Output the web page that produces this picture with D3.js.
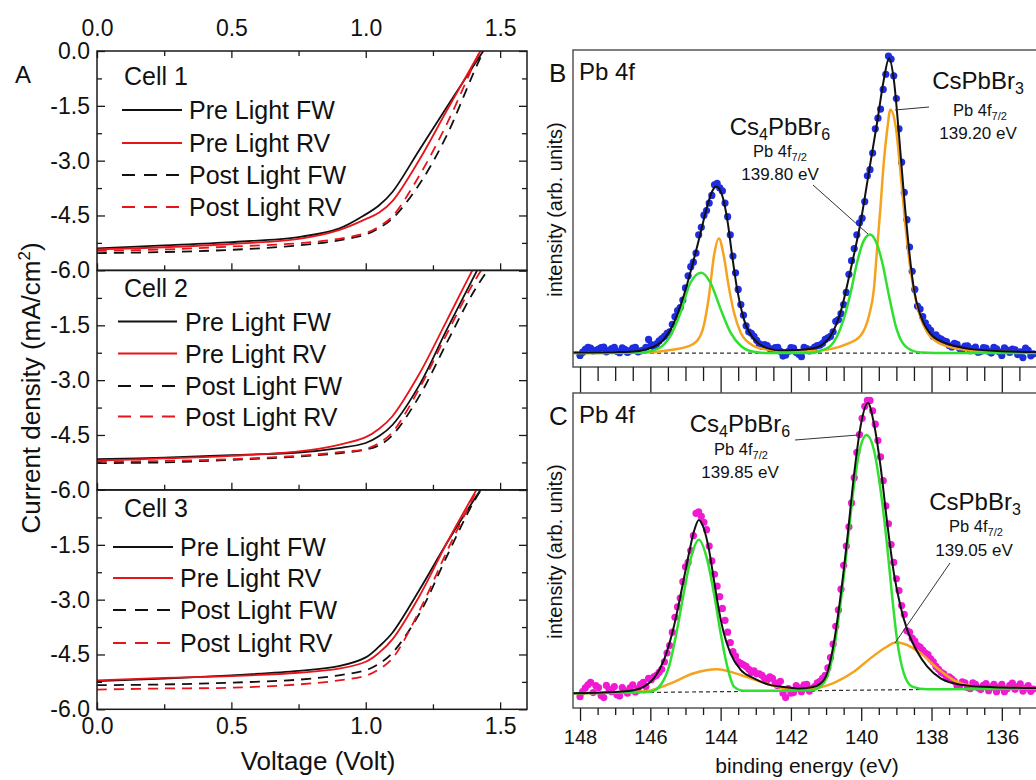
<!DOCTYPE html>
<head>
  <meta charset="utf-8">
  <script src="https://d3js.org/d3.v7.min.js"></script>
  <style>
    body { margin:0; background:#fff; }
    svg { display:block; }
    text { font-family: "Liberation Sans", Arial, sans-serif; fill:#111; }
  </style>
</head>

<body>
  <script>
// ---------- panel A : J-V curves ----------
const volts = [0, 0.25, 0.5, 0.75, 0.9, 1.0, 1.05, 1.1, 1.2, 1.3, 1.4, 1.5];
const cellNames = ["Cell 1", "Cell 2", "Cell 3"];
const seriesNames = ["Pre Light FW", "Pre Light RV", "Post Light FW", "Post Light RV"];
const cell1J = [
  [-5.40, -5.32, -5.23, -5.09, -4.86, -4.47, -4.22, -3.85, -2.70, -1.55, -0.42, 0.7],
  [-5.43, -5.37, -5.28, -5.14, -4.90, -4.60, -4.42, -4.10, -2.97, -1.65, -0.35, 0.95],
  [-5.53, -5.50, -5.44, -5.32, -5.18, -5.02, -4.84, -4.58, -3.64, -2.33, -0.62, 1.0],
  [-5.47, -5.43, -5.35, -5.26, -5.14, -4.98, -4.80, -4.52, -3.40, -2.02, -0.40, 1.2]
];
const cell2J = [
  [-5.16, -5.12, -5.05, -4.98, -4.86, -4.72, -4.53, -4.22, -3.13, -1.64, -0.20, 1.2],
  [-5.20, -5.14, -5.07, -4.95, -4.77, -4.56, -4.33, -3.98, -2.82, -1.39, 0.05, 1.4],
  [-5.27, -5.25, -5.18, -5.09, -5.00, -4.90, -4.78, -4.50, -3.43, -2.00, -0.60, 0.5],
  [-5.23, -5.21, -5.16, -5.07, -4.97, -4.88, -4.72, -4.42, -3.22, -1.76, -0.35, 0.8]
];
const cell3J = [
  [-5.23, -5.16, -5.07, -4.95, -4.82, -4.58, -4.28, -3.90, -2.73, -1.47, -0.30, 0.8],
  [-5.21, -5.14, -5.09, -5.00, -4.89, -4.70, -4.45, -4.08, -2.90, -1.47, -0.15, 1.1],
  [-5.34, -5.32, -5.27, -5.19, -5.07, -4.93, -4.75, -4.45, -3.38, -1.84, -0.35, 0.8],
  [-5.46, -5.43, -5.41, -5.32, -5.21, -5.08, -4.90, -4.60, -3.30, -1.71, -0.20, 1.2]
];
const jTicks = [0, -1.5, -3.0, -4.5, -6.0];
const vTicks = [0, 0.5, 1.0, 1.5];

// ---------- panels B and C : XPS Pb 4f ----------
// measured points on two interleaved energy grids (0.15 eV step)
const dotEnergyA = d3.range(87).map(i => +(148 - 0.15 * i).toFixed(3));
const dotEnergyB = d3.range(86).map(i => +(147.925 - 0.15 * i).toFixed(3));
const bDotsA = [-0.8, 1.2, 1.6, 0.9, 1.8, 0.4, 1.5, 0.6, 1.7, 0.2, 1.6, 0.4, 1.0, 4.5, 2.0, 4.0, 5.5, 7.0, 12.0, 15.0,
  21.5, 28.5, 33.0, 41.5, 47.0, 52.0, 56.0, 53.5, 45.0, 32.0, 21.0, 12.5, 7.0, 5.5, 3.0, 2.8, 1.5, 1.8, 0.6, -0.6,
  1.8, 0.2, -1.2, 1.5, 1.2, 2.5, 3.2, 5.0, 7.0, 11.0, 16.0, 26.0, 34.5, 43.0, 50.0, 60.5, 74.0, 80.5, 92.0, 97.0,
  84.0, 63.0, 44.0, 27.0, 15.5, 12.0, 8.5, 5.5, 5.0, 4.0, 2.5, 3.2, 1.5, 2.3, 0.8, 2.0, 0.5, 1.6, 0.0, 1.4,
  -0.8, 1.0, 1.3, -0.5, -1.5, 0.9, -0.3];
const bDotsB = [0.3, 1.9, 0.7, 1.3, 2.0, 0.9, 1.9, 0.1, 1.2, 0.8, 1.9, 0.7, 1.9, 2.8, 3.0, 4.8, 6.5, 9.5, 14.0, 17.5,
  25.5, 30.0, 39.0, 45.5, 49.5, 55.5, 54.5, 49.5, 39.0, 26.5, 16.0, 9.0, 6.5, 4.2, 2.2, 2.5, 0.9, 1.9, -1.0, 0.5,
  1.6, -0.4, 1.9, 0.7, 2.0, 2.6, 4.5, 5.5, 10.5, 13.0, 20.0, 30.5, 39.0, 44.5, 58.5, 66.0, 77.5, 87.0, 98.0, 91.5,
  74.0, 53.0, 35.0, 21.0, 14.5, 10.0, 7.5, 6.0, 4.6, 3.8, 2.0, 2.9, 1.2, 2.4, 1.5, 0.3, 1.8, 0.6, 1.9, 0.4,
  1.7, 0.2, 1.1, 0.4, 1.6, -0.9];
const cDotsA = [-2.2, 0.8, 2.6, 1.5, -1.8, 1.6, -0.5, -1.5, 0.9, -1.0, 1.8, 0.5, 2.6, 4.0, 4.5, 6.0, 9.5, 15.0, 24.5, 31.0,
  41.5, 47.0, 59.5, 58.5, 54.0, 43.5, 35.0, 27.5, 19.5, 13.0, 9.5, 8.5, 7.0, 6.5, 5.5, 4.0, 4.5, 2.5, 3.0, -2.5,
  -1.0, 1.5, -0.5, 2.0, 0.5, 2.5, 4.0, 7.5, 15.5, 27.0, 42.0, 55.0, 71.5, 86.0, 95.5, 97.5, 89.5, 78.5, 62.0, 49.0,
  37.5, 28.5, 20.0, 17.5, 15.0, 13.5, 12.0, 9.5, 7.0, 5.5, 4.5, 3.0, 1.5, 2.5, 0.5, 2.0, 0.2, 2.2, 1.0, -0.5,
  2.0, 0.5, 2.4, 1.2, -0.3, 1.5, 0.4];
const cDotsB = [-0.5, 1.8, -0.8, 0.9, -2.5, 0.3, 1.2, -2.0, -0.2, 0.8, -0.6, 2.0, 1.2, 3.5, 5.0, 7.0, 12.5, 19.5, 28.0, 36.5,
  43.0, 52.0, 60.0, 56.5, 48.5, 39.0, 31.5, 23.5, 16.0, 11.5, 9.0, 8.0, 6.0, 5.5, 5.0, 3.5, 4.0, 1.5, -1.0, 0.5,
  -0.8, 0.8, 1.8, -0.3, 1.2, 3.0, 5.0, 11.0, 21.5, 34.0, 48.5, 63.0, 80.0, 91.5, 97.5, 94.0, 84.0, 70.5, 56.0, 43.0,
  33.5, 25.5, 19.5, 16.5, 14.5, 12.5, 10.5, 8.0, 6.0, 4.0, 3.8, 1.5, 2.8, 0.9, 2.5, 0.8, 1.6, -0.2, 2.0, 1.0,
  -0.5, 1.6, 0.3, 2.1, 0.7, -0.4];

// fitted envelope and components, [binding energy, intensity]
const bFit = [[148.2,0.2],[147,0.3],[146.56,0.4],[146.09,1.3],[145.61,4.6],[145.33,10],[145.05,18.9],[144.76,31],
  [144.57,39.7],[144.38,48.5],[144.24,53.4],[144.12,55],[143.95,51.8],[143.81,44],[143.67,32],[143.53,21],
  [143.34,11.2],[143.05,4.6],[142.58,1.3],[142.3,0.9],[141.8,1.0],[141.4,1.5],[141.16,2.4],[140.87,5.7],
  [140.59,13.4],[140.3,27.6],[140.02,43],[139.74,62.7],[139.55,75.9],[139.36,90],[139.21,97.3],[139.07,90],
  [138.93,72.6],[138.79,52.9],[138.64,34.2],[138.5,21],[138.31,12.3],[138.03,6.3],[137.65,3.5],[137.18,1.9],
  [136.89,1.3],[136,0.6],[134.8,0.3]];
const bCs4PbBr6 = [[148.2,0],[146.4,0.1],[146.09,0.4],[145.71,1.9],[145.43,5.7],[145.14,13.4],[144.86,23.2],
  [144.55,26.5],[144.29,23.2],[144.0,14.5],[143.72,6.8],[143.43,2.4],[143.05,0.4],[142.6,0],[141.4,0],
  [141.16,0.8],[140.87,2.4],[140.68,5.7],[140.5,11.2],[140.3,20],[140.12,29.8],[139.93,37],[139.75,39.1],
  [139.59,37],[139.4,29.8],[139.21,18.9],[139.02,9],[138.83,3.5],[138.55,0.8],[138.3,0.2],[137.5,0],[134.8,0]];
const bCsPbBr3 = [[148.2,0],[146.09,0.2],[145.43,1.0],[144.95,2.1],[144.67,4],[144.48,9],[144.33,18.9],
  [144.19,32],[144.05,37.8],[143.91,32],[143.77,22],[143.62,13.4],[143.43,6.8],[143.15,3.0],[142.77,1.3],
  [142.3,0.7],[141.5,0.6],[140.87,1.3],[140.4,3.0],[140.02,5.7],[139.78,12.3],[139.64,21],[139.55,34.2],
  [139.45,48.5],[139.36,62.7],[139.26,73.7],[139.17,80.3],[139.02,74.8],[138.88,59.4],[138.74,41.9],
  [138.6,27.6],[138.41,15.6],[138.12,6.8],[137.74,3.0],[137.18,1.3],[136.89,0.8],[136,0.4],[134.8,0.2]];
const bBase = [[148.2,0],[134.8,0]];

const cFit = [[148.2,-1.0],[147,-0.6],[146.56,-0.2],[146.18,1.2],[145.9,4.0],[145.61,10.2],[145.33,21.4],
  [145.09,34.9],[144.9,46.1],[144.76,53.4],[144.62,57.3],[144.48,54.5],[144.33,47.2],[144.19,37.1],[144.05,27],
  [143.91,19.2],[143.72,12.4],[143.43,6.8],[143.05,4.0],[142.58,1.7],[142.3,1.2],[141.8,0.6],[141.4,1.0],
  [141.16,2.2],[140.97,5.7],[140.78,15.8],[140.59,31.5],[140.4,50.6],[140.21,71.9],[140.02,88.7],[139.81,96.6],
  [139.64,89.8],[139.45,75.3],[139.26,56.2],[139.07,39.3],[138.88,28.1],[138.69,20.3],[138.41,13],[138.12,7.9],
  [137.74,4.0],[137.37,2.3],[136.89,1.4],[136,0.9],[134.8,0.7]];
const cCs4PbBr6 = [[148.2,-1.0],[146.3,-0.7],[146.0,-0.5],[145.71,1.7],[145.47,7.9],[145.24,20.3],[145.05,32.6],
  [144.86,43.8],[144.62,50.6],[144.38,43.8],[144.19,32.6],[144.0,19.2],[143.81,7.9],[143.62,1.2],[143.34,-0.2],
  [142.8,-0.2],[141.4,0],[141.16,1.2],[140.97,4.5],[140.78,13.5],[140.59,29.2],[140.4,48.3],[140.21,68.5],
  [140.02,82],[139.85,85.9],[139.64,80.9],[139.45,67.4],[139.26,48.3],[139.12,31.5],[138.98,16.9],[138.79,5.7],
  [138.55,1.2],[138.12,0.3],[134.8,0.5]];
const cCsPbBr3 = [[148.2,-1.0],[146.5,-0.6],[146.09,-0.3],[145.42,2.3],[144.76,5.7],[144.1,7.0],[143.43,5.1],
  [142.77,2.5],[142.1,0.6],[141.44,0.6],[141.16,1.0],[140.7,2.9],[140.21,6.2],[139.74,10.7],[139.26,14.7],
  [139.02,16],[138.79,15.6],[138.31,12.4],[137.84,7.4],[137.37,3.4],[136.89,1.4],[136.42,0.9],[134.8,0.6]];
const cBase = [[148.2,-1.05],[134.8,0.68]];
const eTicks = [148, 146, 144, 142, 140, 138, 136];

const width = 1036, height = 780;
const svg = d3.select("body").append("svg").attr("width", width).attr("height", height);
svg.append("rect").attr("width", width).attr("height", height).attr("fill", "#fff");

const ink = "#1a1a1a";
function styleAxis(g, size) {
  g.select(".domain").remove();
  g.attr("font-family", "Liberation Sans, Arial, sans-serif").attr("font-size", size).attr("color", ink);
  g.selectAll("line").attr("stroke-width", 1.3);
}

// ===== A =====
const xV = d3.scaleLinear().domain([0, 1.6]).range([97, 527]);
const cellTop = [51, 270.5, 490], cellH = 219.3;
const jvLine = d3.line().curve(d3.curveCatmullRom.alpha(0.5));
const jvColor = ["#111", "#e8141c", "#111", "#e8141c"];
const jvDash = [null, null, "10,7", "10,7"];
// legend layout per cell: title baseline, row centres, line start, line end, text x
const legendPos = [
  { title: 34, rows: [59, 92, 124, 156], x0: 122, x1: 182, tx: 189, cx: 124 },
  { title: 26, rows: [51, 83, 115.5, 146], x0: 118, x1: 177, tx: 185, cx: 124 },
  { title: 27, rows: [57, 88, 120, 153], x0: 113, x1: 173, tx: 180, cx: 124 }
];

[cell1J, cell2J, cell3J].forEach((J, c) => {
  const top = cellTop[c];
  const y = d3.scaleLinear().domain([-6, 0]).range([top + cellH, top]);
  const g = svg.append("g");
  const clipId = "clipA" + c;
  svg.append("clipPath").attr("id", clipId).append("rect")
    .attr("x", xV(0)).attr("y", top).attr("width", xV(1.6) - xV(0)).attr("height", cellH);

  J.forEach((vals, s) => {
    g.append("path")
      .attr("clip-path", `url(#${clipId})`)
      .attr("d", jvLine(volts.map((v, i) => [xV(v), y(vals[i])])))
      .attr("fill", "none")
      .attr("stroke", jvColor[s])
      .attr("stroke-width", 1.8)
      .attr("stroke-dasharray", jvDash[s]);
  });

  g.append("rect").attr("x", xV(0)).attr("y", top).attr("width", xV(1.6) - xV(0)).attr("height", cellH)
    .attr("fill", "none").attr("stroke", ink).attr("stroke-width", 1.5);

  const yMajor = c === 0 ? jTicks : jTicks.slice(1);
  g.append("g").attr("transform", `translate(${xV(0)},0)`)
    .call(d3.axisLeft(y).tickValues(yMajor).tickSize(-8).tickPadding(7).tickFormat(d => d.toFixed(1)))
    .call(a => styleAxis(a, 23));
  g.append("g").attr("transform", `translate(${xV(0)},0)`)
    .call(d3.axisLeft(y).tickValues([-0.75, -2.25, -3.75, -5.25]).tickSize(-5).tickFormat(() => ""))
    .call(a => styleAxis(a, 10));
  g.append("g").attr("transform", `translate(${xV(1.6)},0)`)
    .call(d3.axisRight(y).tickValues(jTicks).tickSize(-8).tickFormat(() => ""))
    .call(a => styleAxis(a, 10));
  g.append("g").attr("transform", `translate(${xV(1.6)},0)`)
    .call(d3.axisRight(y).tickValues([-0.75, -2.25, -3.75, -5.25]).tickSize(-5).tickFormat(() => ""))
    .call(a => styleAxis(a, 10));

  const bottomAxis = d3.axisBottom(xV).tickValues(vTicks).tickSize(-7).tickPadding(8)
    .tickFormat(c === 2 ? (d => d.toFixed(1)) : () => "");
  g.append("g").attr("transform", `translate(0,${top + cellH})`).call(bottomAxis).call(a => styleAxis(a, 23));
  g.append("g").attr("transform", `translate(0,${top + cellH})`)
    .call(d3.axisBottom(xV).tickValues([0.25, 0.75, 1.25]).tickSize(-5).tickFormat(() => ""))
    .call(a => styleAxis(a, 10));
  if (c === 0) {
    g.append("g").attr("transform", `translate(0,${top})`)
      .call(d3.axisTop(xV).tickValues(vTicks).tickSize(-7).tickPadding(15).tickFormat(d => d.toFixed(1)))
      .call(a => styleAxis(a, 23));
    g.append("g").attr("transform", `translate(0,${top})`)
      .call(d3.axisTop(xV).tickValues([0.25, 0.75, 1.25]).tickSize(-5).tickFormat(() => ""))
      .call(a => styleAxis(a, 10));
  }

  // legend
  const L = legendPos[c];
  g.append("text").attr("x", L.cx).attr("y", top + L.title).attr("font-size", 25).text(cellNames[c]);
  seriesNames.forEach((name, s) => {
    const yy = top + L.rows[s];
    g.append("line").attr("x1", L.x0).attr("x2", L.x1).attr("y1", yy).attr("y2", yy)
      .attr("stroke", jvColor[s]).attr("stroke-width", 1.8).attr("stroke-dasharray", jvDash[s] ? "13,9" : null);
    g.append("text").attr("x", L.tx).attr("y", yy).attr("dy", "0.36em").attr("font-size", 25).text(name);
  });
});

svg.append("text").attr("x", 15).attr("y", 83).attr("font-size", 24).text("A");
svg.append("text").attr("x", 318).attr("y", 770).attr("text-anchor", "middle").attr("font-size", 26)
  .text("Voltage (Volt)");
const yLab = svg.append("text").attr("transform", "translate(40,388) rotate(-90)")
  .attr("text-anchor", "middle").attr("font-size", 26);
yLab.append("tspan").text("Current density (mA/cm");
yLab.append("tspan").attr("dy", -10).attr("font-size", 17).text("2");
yLab.append("tspan").attr("dy", 10).text(")");

// ===== B and C =====
const xE = d3.scaleLinear().domain([148.2, 134.8]).range([573, 1044]);
const panels = [
  { key: "B", top: 50, bottom: 367, dom: [-4.6, 100], dotsA: bDotsA, dotsB: bDotsB, color: "#1f2de0",
    fit: bFit, green: bCs4PbBr6, orange: bCsPbBr3, base: bBase },
  { key: "C", top: 393, bottom: 708, dom: [-6, 100], dotsA: cDotsA, dotsB: cDotsB, color: "#f01ad2",
    fit: cFit, green: cCs4PbBr6, orange: cCsPbBr3, base: cBase }
];
const xpsLine = d3.line().curve(d3.curveMonotoneX);

function chem(g, x, y, parts, size, subSize) {
  const t = g.append("text").attr("x", x).attr("y", y).attr("text-anchor", "middle").attr("font-size", size);
  const shift = size * 0.22;
  parts.forEach(([txt, sub], i) => {
    const sp = t.append("tspan").text(txt);
    if (sub) sp.attr("font-size", subSize).attr("dy", shift);
    else if (i > 0 && parts[i - 1][1]) sp.attr("dy", -shift);
  });
}

panels.forEach((p, k) => {
  const y = d3.scaleLinear().domain(p.dom).range([p.bottom, p.top]);
  const g = svg.append("g");
  const clipId = "clipX" + k;
  svg.append("clipPath").attr("id", clipId).append("rect")
    .attr("x", xE.range()[0]).attr("y", p.top).attr("width", 500).attr("height", p.bottom - p.top);
  const pl = g.append("g").attr("clip-path", `url(#${clipId})`);

  pl.selectAll("circle.a").data(p.dotsA).join("circle").attr("class", "a")
    .attr("cx", (d, i) => xE(dotEnergyA[i])).attr("cy", d => y(d)).attr("r", 3.6).attr("fill", p.color);
  pl.selectAll("circle.b").data(p.dotsB).join("circle").attr("class", "b")
    .attr("cx", (d, i) => xE(dotEnergyB[i])).attr("cy", d => y(d)).attr("r", 3.6).attr("fill", p.color);
  const toXY = arr => arr.map(d => [xE(d[0]), y(d[1])]);
  pl.append("path").attr("d", xpsLine(toXY(p.base))).attr("fill", "none").attr("stroke", "#333")
    .attr("stroke-width", 1.2).attr("stroke-dasharray", "4,3");
  pl.append("path").attr("d", xpsLine(toXY(p.orange))).attr("fill", "none").attr("stroke", "#f6a21e").attr("stroke-width", 2.5);
  pl.append("path").attr("d", xpsLine(toXY(p.green))).attr("fill", "none").attr("stroke", "#2fe02f").attr("stroke-width", 2.5);
  pl.append("path").attr("d", xpsLine(toXY(p.fit))).attr("fill", "none").attr("stroke", "#111").attr("stroke-width", 2);

  g.append("rect").attr("x", xE.range()[0]).attr("y", p.top).attr("width", 500).attr("height", p.bottom - p.top)
    .attr("fill", "none").attr("stroke", "#555").attr("stroke-width", 1.5);

  const minor = d3.range(148, 134.9, -0.5).filter(d => d % 2 !== 0);
  if (k === 0) {
    g.append("g").attr("transform", `translate(0,${p.bottom})`)
      .call(d3.axisBottom(xE).tickValues(eTicks).tickSize(26).tickFormat(() => ""))
      .call(a => styleAxis(a, 10));
    g.append("g").attr("transform", `translate(0,${p.bottom})`)
      .call(d3.axisBottom(xE).tickValues(minor).tickSize(14).tickFormat(() => ""))
      .call(a => styleAxis(a, 10));
  } else {
    g.append("g").attr("transform", `translate(0,${p.bottom})`)
      .call(d3.axisBottom(xE).tickValues(eTicks).tickSize(13).tickPadding(9).tickFormat(d3.format("d")))
      .call(a => styleAxis(a, 20));
    g.append("g").attr("transform", `translate(0,${p.bottom})`)
      .call(d3.axisBottom(xE).tickValues(minor).tickSize(7).tickFormat(() => ""))
      .call(a => styleAxis(a, 10));
  }

  g.append("text").attr("x", 549).attr("y", p.top + 32).attr("font-size", 26).text(p.key);
  g.append("text").attr("x", 579).attr("y", p.top + 30).attr("font-size", 24).text("Pb 4f");
  g.append("text").attr("transform", `translate(562,${(p.top + p.bottom) / 2 + 1}) rotate(-90)`)
    .attr("text-anchor", "middle").attr("font-size", 20).text("intensity (arb. units)");
});

svg.append("text").attr("x", 807).attr("y", 773).attr("text-anchor", "middle").attr("font-size", 21)
  .text("binding energy (eV)");

// annotations
const ann = svg.append("g");
const lead = (x1, y1, x2, y2) => ann.append("line").attr("x1", x1).attr("y1", y1).attr("x2", x2).attr("y2", y2)
  .attr("stroke", "#333").attr("stroke-width", 1);
// B
chem(ann, 780, 135, [["Cs"], ["4", 1], ["PbBr"], ["6", 1]], 24, 16);
chem(ann, 780, 157, [["Pb 4f"], ["7/2", 1]], 16.5, 11);
ann.append("text").attr("x", 780).attr("y", 180).attr("text-anchor", "middle").attr("font-size", 17).text("139.80 eV");
lead(813, 185, 868, 234);
chem(ann, 978, 89, [["CsPbBr"], ["3", 1]], 24, 16);
chem(ann, 980, 116, [["Pb 4f"], ["7/2", 1]], 16.5, 11);
ann.append("text").attr("x", 978).attr("y", 139).attr("text-anchor", "middle").attr("font-size", 17).text("139.20 eV");
lead(929, 107, 895, 110);
// C
chem(ann, 740, 432, [["Cs"], ["4", 1], ["PbBr"], ["6", 1]], 24, 16);
chem(ann, 741, 455, [["Pb 4f"], ["7/2", 1]], 16.5, 11);
ann.append("text").attr("x", 740).attr("y", 478).attr("text-anchor", "middle").attr("font-size", 17).text("139.85 eV");
lead(795, 440, 858, 435);
chem(ann, 975, 510, [["CsPbBr"], ["3", 1]], 24, 16);
chem(ann, 976, 532, [["Pb 4f"], ["7/2", 1]], 16.5, 11);
ann.append("text").attr("x", 974).attr("y", 556).attr("text-anchor", "middle").attr("font-size", 17).text("139.05 eV");
lead(950, 563, 895, 643);
  </script>
</body>
